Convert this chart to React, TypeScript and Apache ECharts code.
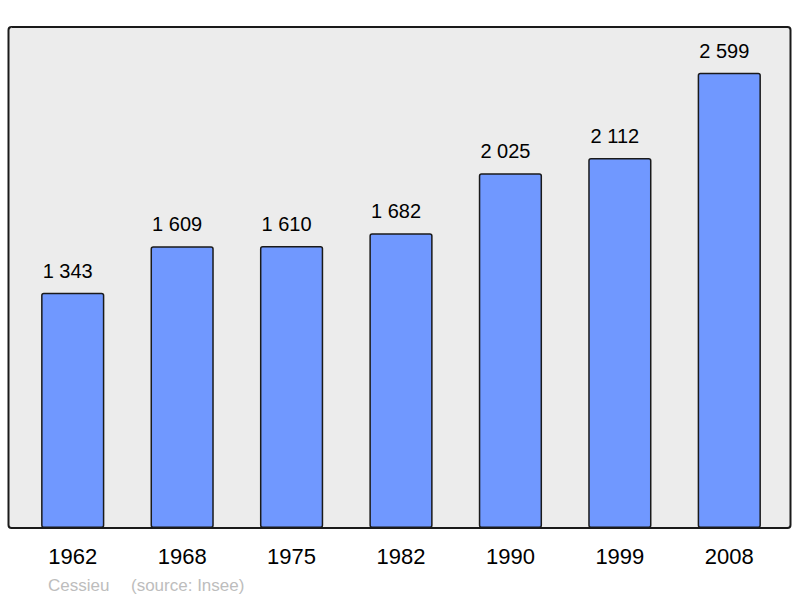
import React, { useEffect, useRef } from "react";
import * as echarts from "echarts";

const years = ["1962", "1968", "1975", "1982", "1990", "1999", "2008"];
const population = [1343, 1609, 1610, 1682, 2025, 2112, 2599];
const townName = "Cessieu";
const sourceText = "(source: Insee)";

const fmt = (v: number) => String(v).replace(/\B(?=(\d{3})+(?!\d))/g, " ");
const FONT = "Liberation Sans, Arial, sans-serif";

export default function App() {
  const ref = useRef<HTMLDivElement>(null);
  useEffect(() => {
    document.body.style.margin = "0";
    const chart = echarts.init(ref.current!, null, { renderer: "svg" });
    chart.setOption({
      animation: false,
      backgroundColor: "#ffffff",
      textStyle: { fontFamily: FONT },
      graphic: [
        {
          type: "rect",
          z: -10,
          silent: true,
          shape: { x: 8.5, y: 27, width: 782, height: 501, r: 3 },
          style: { fill: "#ececec", stroke: "#1a1a1a", lineWidth: 2 },
        },
        {
          type: "text",
          x: 48,
          y: 585,
          style: {
            text: townName,
            fill: "#bdbdbd",
            fontSize: 17,
            fontFamily: FONT,
            verticalAlign: "middle",
          },
        },
        {
          type: "text",
          x: 131,
          y: 585,
          style: {
            text: sourceText,
            fill: "#bdbdbd",
            fontSize: 17,
            fontFamily: FONT,
            verticalAlign: "middle",
          },
        },
      ],
      grid: { left: 18, right: 16, top: 27, bottom: 70 },
      xAxis: {
        type: "category",
        data: years,
        axisLine: { show: false },
        axisTick: { show: false },
        axisLabel: { fontSize: 22, color: "#000", margin: 17 },
      },
      yAxis: {
        type: "value",
        min: 0,
        max: 2860,
        show: false,
        splitLine: { show: false },
      },
      series: [
        {
          type: "bar",
          data: population,
          barWidth: "57.8%",
          itemStyle: {
            color: "#7098ff",
            borderColor: "#1a1a1a",
            borderWidth: 1.5,
            borderRadius: 2,
          },
          label: {
            show: true,
            position: "top",
            distance: 12,
            offset: [-5, 0],
            fontSize: 20,
            color: "#000",
            formatter: (p: any) => fmt(p.value),
          },
        },
      ],
    });
    return () => chart.dispose();
  }, []);
  return <div ref={ref} style={{ width: 800, height: 598 }} />;
}
